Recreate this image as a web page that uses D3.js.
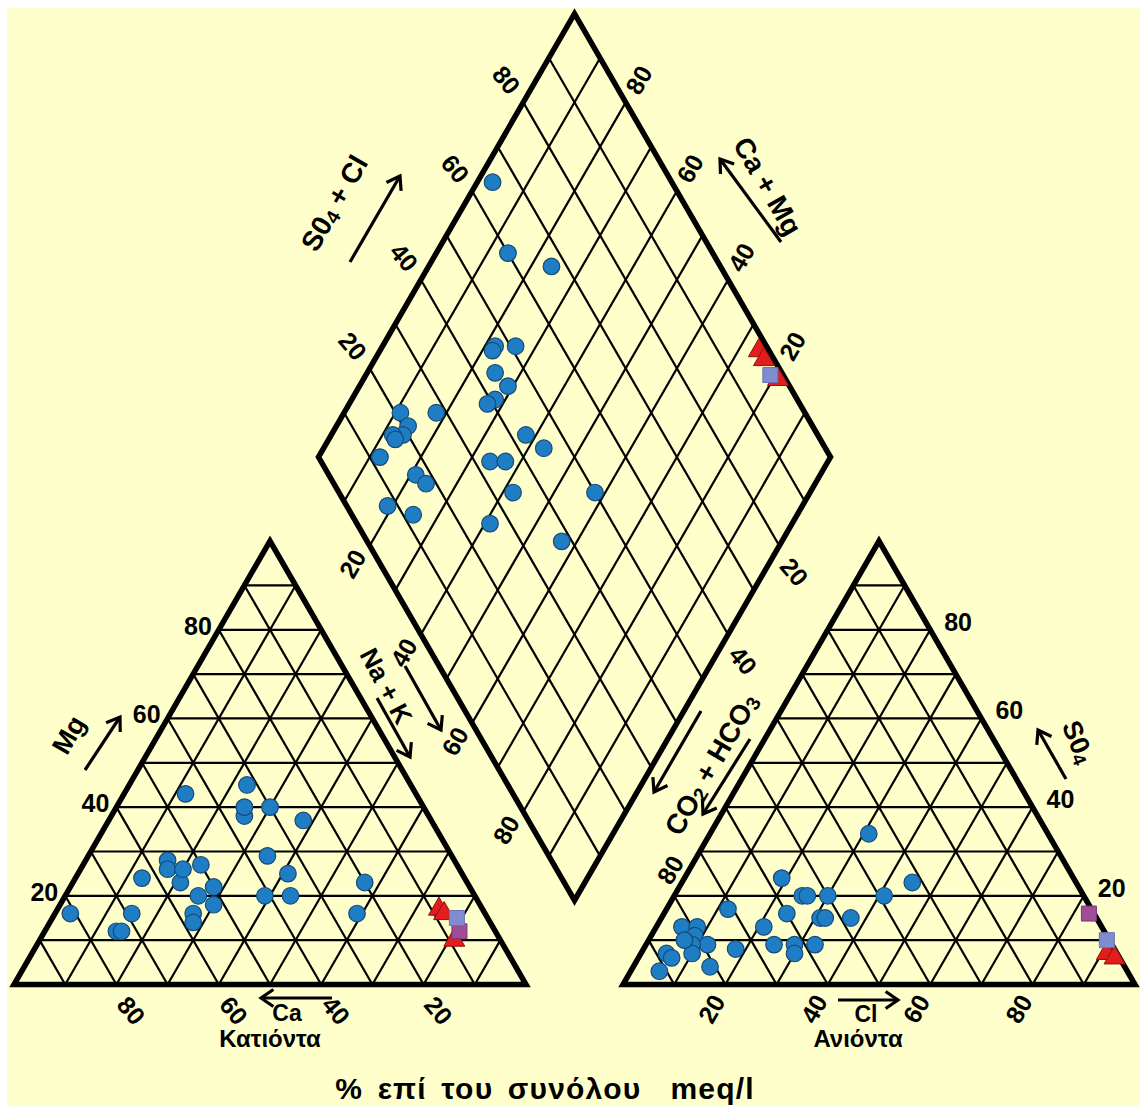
<!DOCTYPE html>
<html>
<head>
<meta charset="utf-8">
<script src="https://cdn.jsdelivr.net/npm/d3@7"></script>
<style>
  body { margin: 0; background: #fff; }
  svg { display: block; }
  text { font-family: "Liberation Sans", Arial, sans-serif; font-weight: bold; fill: #000; }
</style>
</head>
<body>
<svg id="chart" width="1140" height="1106"></svg>
<script>
// ---- Cation triangle (% of total cations, meq/l) ----
const cationMg  = [16, 12, 12, 16, 24, 28, 26, 23, 26, 43, 16, 14, 20, 27, 18, 22, 38, 40, 45, 20, 29, 40, 25, 20, 37, 16, 23];
const cationNaK = [ 3, 14, 15, 15, 13, 16, 17, 21, 20, 12, 27, 28, 26, 23, 30, 28, 26, 25, 23, 39, 35, 30, 41, 44, 38, 59, 57];

// ---- Anion triangle (% of total anions, meq/l) ----
const anionSO4 = [34, 23, 20, 24, 20, 20, 20, 17, 16, 15, 15, 13, 13, 13, 11,  9, 9,  7,  8,  4, 7, 6,   3,  9,  9,  7,  9, 15, 10];
const anionCl  = [31, 45, 41, 19, 25, 26, 30, 12, 24, 31, 37, 21,  5,  8, 8.5, 12, 9, 10, 18, 15, 5, 6.5, 5.6, 25, 29, 30, 33, 32,  7];

// ---- Central diamond ----
const diamondSO4Cl = [65, 60, 67, 51, 47, 46, 44, 45, 41, 39, 28, 21, 21, 19, 17, 17, 12, 43, 45, 33, 36, 17, 18, 34, 50,  8, 12, 26, 38];
const diamondCaMg  = [97, 86, 76, 74, 78, 78, 75, 71, 72, 73, 82, 89, 86, 86, 88, 87, 88, 62, 57, 66, 63, 79, 76, 58, 42, 81, 75, 59, 43];

// ---- Highlighted samples (triangles and squares) ----
const redCatMg  = [17, 16, 10];
const redCatNaK = [74.5, 76, 81];
const redAnSO4  = [7, 6];
const redAnCl   = [91, 93];
const redDiaSO4Cl = [98, 98, 98.5];
const redDiaCaMg  = [26, 24, 19];

const blueSqCat = [15, 79];   // Mg, Na+K
const purpleSqCat = [12, 81];
const blueSqAn = [10, 89.5];  // SO4, Cl
const purpleSqAn = [16, 83];
const blueSqDia = [97.5, 21]; // SO4+Cl, Ca+Mg

// ---- Tick labels ----
const tickValues = [20, 40, 60, 80];

// ---------------------------------------------------------------
const svg = d3.select("#chart");
const W = 1140, H = 1106;

const side = 512;
const ht = side * Math.sqrt(3) / 2;
const baseY = 984.5;
const leftX0 = 14, rightX0 = 623;
const gap = rightX0 - (leftX0 + side);
const dBottomX = (leftX0 + side + rightX0) / 2;
const dBottomY = baseY - gap / 2 * Math.sqrt(3);

// background
svg.append("rect").attr("width", W).attr("height", H).attr("fill", "#ffffff");
svg.append("rect").attr("x", 7).attr("y", 8).attr("width", W - 7).attr("height", H - 8).attr("fill", "#ffffcc");

// scales
const leftX = d3.scaleLinear().domain([0, 100]).range([leftX0, leftX0 + side]);
const leftY = d3.scaleLinear().domain([0, 100]).range([baseY, baseY - ht]);
const rightX = d3.scaleLinear().domain([0, 100]).range([rightX0, rightX0 + side]);
const rightY = d3.scaleLinear().domain([0, 100]).range([baseY, baseY - ht]);
const diaX = d3.scaleLinear().domain([-100, 100]).range([dBottomX - side / 2, dBottomX + side / 2]);
const diaY = d3.scaleLinear().domain([0, 200]).range([dBottomY, dBottomY - 2 * ht]);

const cationXY = (mg, nak) => [leftX(nak + mg / 2), leftY(mg)];
const anionXY = (so4, cl) => [rightX(cl + so4 / 2), rightY(so4)];
const diamondXY = (a, c) => [diaX(a - c), diaY(a + c)];

const line = d3.line();
const gridG = svg.append("g").attr("fill", "none").attr("stroke", "#000").attr("stroke-width", 2.2);
const borderG = svg.append("g").attr("fill", "none").attr("stroke", "#000").attr("stroke-width", 5.5).attr("stroke-linejoin", "miter");

const steps = d3.range(10, 100, 10);

// triangle grids
function triangleGrid(proj) {
  steps.forEach(v => {
    gridG.append("path").attr("d", line([proj(v, 0), proj(v, 100 - v)]));
    gridG.append("path").attr("d", line([proj(0, v), proj(100 - v, v)]));
    gridG.append("path").attr("d", line([proj(0, 100 - v), proj(100 - v, 0)]));
  });
  borderG.append("path").attr("d", line([proj(0, 0), proj(0, 100), proj(100, 0)]) + "Z");
}
triangleGrid(cationXY);
triangleGrid(anionXY);

// diamond grid
steps.forEach(v => {
  gridG.append("path").attr("d", line([diamondXY(v, 0), diamondXY(v, 100)]));
  gridG.append("path").attr("d", line([diamondXY(0, v), diamondXY(100, v)]));
});
borderG.append("path").attr("d", line([diamondXY(0, 0), diamondXY(0, 100), diamondXY(100, 100), diamondXY(100, 0)]) + "Z");

// ---- tick labels ----
const tickG = svg.append("g").attr("font-size", 25);
function tick(x, y, txt, rot, anchor) {
  tickG.append("text")
    .attr("transform", `translate(${x},${y}) rotate(${rot || 0})`)
    .attr("text-anchor", anchor || "middle")
    .attr("dominant-baseline", "central")
    .text(txt);
}
const ext = (p, dx, dy, d) => [p[0] + dx * d, p[1] + dy * d];
const s3 = Math.sqrt(3) / 2;

tickValues.forEach(v => {
  // cation: Mg on left edge
  const pm = cationXY(v, 0);
  tick(pm[0] - 7, pm[1] - 4, v, 0, "end");
  // cation: Ca along base
  const pc = ext(cationXY(0, 100 - v), 0.5, s3, 30);
  tick(pc[0], pc[1], v, 50);
  // anion: SO4 on right edge
  const ps = anionXY(v, 100 - v);
  tick(ps[0] + 14, ps[1] - 8, v, 0, "start");
  // anion: Cl along base
  const pl = ext(anionXY(0, v), -0.5, s3, 28);
  tick(pl[0], pl[1], v, -60);
  // diamond upper-left: SO4+Cl
  const pa = ext(diamondXY(v, 100), -0.6, -0.8, 28);
  tick(pa[0], pa[1], v, 50);
  // diamond upper-right: Ca+Mg
  const pb = ext(diamondXY(100, v), 0.5, -s3, 26);
  tick(pb[0], pb[1], v, -60);
  // diamond lower-left: Na+K
  const pn = ext(diamondXY(0, 100 - v), -0.69, 0.72, 25);
  tick(pn[0], pn[1], v, -60);
});
// diamond lower-right: CO3+HCO3
[20, 40].forEach(v => {
  const p = ext(diamondXY(100 - v, 0), 0.5, s3, 30);
  tick(p[0], p[1], v, 50);
});
// anion triangle left edge, 80 % CO3+HCO3
{
  const p = anionXY(20, 0);
  tick(p[0] - 4, p[1] - 26, 80, -60);
}

// ---- axis titles and arrows ----
const annG = svg.append("g");
function arrow(x1, y1, x2, y2) {
  const ang = Math.atan2(y2 - y1, x2 - x1);
  const hl = 15, spread = 0.6;
  annG.append("line").attr("x1", x1).attr("y1", y1).attr("x2", x2).attr("y2", y2)
    .attr("stroke", "#000").attr("stroke-width", 3.2);
  annG.append("path")
    .attr("d", line([
      [x2 + hl * Math.cos(ang + Math.PI - spread), y2 + hl * Math.sin(ang + Math.PI - spread)],
      [x2, y2],
      [x2 + hl * Math.cos(ang + Math.PI + spread), y2 + hl * Math.sin(ang + Math.PI + spread)]
    ]))
    .attr("fill", "none").attr("stroke", "#000").attr("stroke-width", 3.2).attr("stroke-linejoin", "miter");
}
function title(x, y, rot, parts, size, extra) {
  const t = annG.append("text")
    .attr("transform", `translate(${x},${y}) rotate(${rot})`)
    .attr("text-anchor", "middle").attr("dominant-baseline", "central")
    .attr("font-size", size || 25);
  if (extra) extra(t);
  parts.forEach(p => {
    if (typeof p === "string") t.append("tspan").text(p);
    else t.append("tspan").attr("baseline-shift", "-30%").attr("font-size", (size || 25) * 0.7).text(p.sub);
  });
}

title(69, 735, -60, ["Mg"], 27);
arrow(85, 770, 120, 717);

title(334, 203, -60, ["S0", {sub: "4"}, " + Cl"], 28);
arrow(350, 262, 400, 176);

title(768, 186, 60, ["Ca + Mg"], 28);
arrow(781, 242, 720, 159);

title(386, 686, 62, ["Na + K"], 26);
arrow(405, 666, 441, 730);
arrow(377, 698, 410, 757);

title(711, 764, -60, ["CO", {sub: "2"}, " + HCO", {sub: "3"}], 28);
arrow(701, 711, 654, 792);
arrow(750, 739, 703, 814);

title(1078, 742, 68, ["S0", {sub: "4"}], 27);
arrow(1066, 779, 1038, 730);

arrow(332, 998, 261, 998);
title(287, 1013, 0, ["Ca"], 23);
title(270, 1038, 0, ["Κατιόντα"], 24);

arrow(838, 1000, 898, 1000);
title(866, 1014, 0, ["Cl"], 23);
title(858, 1038, 0, ["Ανιόντα"], 24);

title(545, 1088, 0, ["% επί του συνόλου  meq/l"], 30,
  t => t.style("white-space", "pre").attr("letter-spacing", 1.2).attr("word-spacing", 5));

// ---- sample markers ----
const markG = svg.append("g");
function circles(pts) {
  markG.selectAll(null).data(pts).enter().append("circle")
    .attr("cx", d => d[0]).attr("cy", d => d[1]).attr("r", 8.3)
    .attr("fill", "#1f7dc3").attr("stroke", "#174a78").attr("stroke-width", 1.2);
}
function symbols(pts, type, size, fill, stroke) {
  markG.selectAll(null).data(pts).enter().append("path")
    .attr("transform", d => `translate(${d[0]},${d[1]})`)
    .attr("d", d3.symbol().type(type).size(size))
    .attr("fill", fill).attr("stroke", stroke).attr("stroke-width", 1);
}

circles(cationMg.map((m, i) => cationXY(m, cationNaK[i])));
circles(anionSO4.map((s, i) => anionXY(s, anionCl[i])));
circles(diamondSO4Cl.map((a, i) => diamondXY(a, diamondCaMg[i])));

const triRed = "#e21d1d", triStroke = "#8e1212";
symbols(redCatMg.map((m, i) => cationXY(m, redCatNaK[i])), d3.symbolTriangle, 190, triRed, triStroke);
symbols(redAnSO4.map((s, i) => anionXY(s, redAnCl[i])), d3.symbolTriangle, 190, triRed, triStroke);
symbols(redDiaSO4Cl.map((a, i) => diamondXY(a, redDiaCaMg[i])), d3.symbolTriangle, 190, triRed, triStroke);

symbols([cationXY(purpleSqCat[0], purpleSqCat[1])], d3.symbolSquare, 225, "#a04d98", "#7a3574");
symbols([cationXY(blueSqCat[0], blueSqCat[1])], d3.symbolSquare, 225, "#7f8cd0", "#6a73b0");
symbols([anionXY(purpleSqAn[0], purpleSqAn[1])], d3.symbolSquare, 225, "#a04d98", "#7a3574");
symbols([anionXY(blueSqAn[0], blueSqAn[1])], d3.symbolSquare, 225, "#7f8cd0", "#6a73b0");
symbols([diamondXY(blueSqDia[0], blueSqDia[1])], d3.symbolSquare, 225, "#7f8cd0", "#6a73b0");
</script>
</body>
</html>
